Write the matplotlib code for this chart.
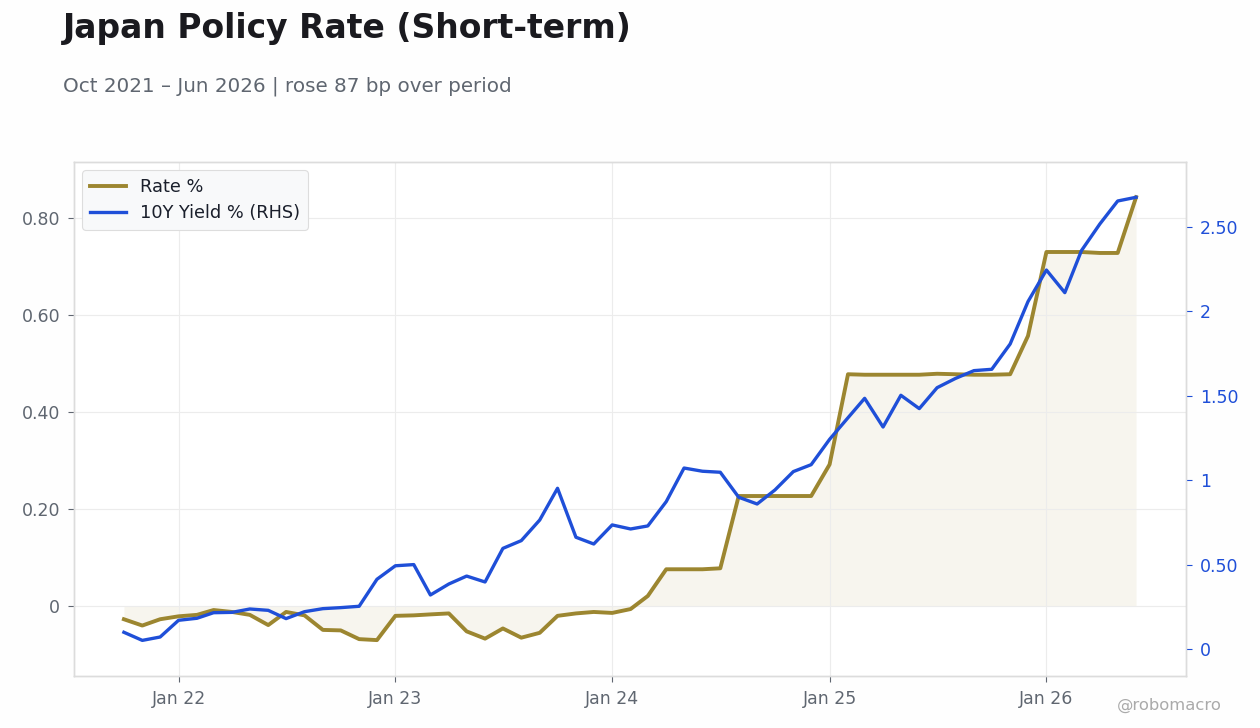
import matplotlib
matplotlib.use("Agg")
import matplotlib.pyplot as plt
import matplotlib.dates as mdates
import matplotlib.ticker as mticker
import pandas as pd

dates = pd.date_range("2021-10-01", "2026-06-01", freq="MS")

rate = [
    -0.027, -0.040, -0.027, -0.021, -0.018, -0.008, -0.012, -0.018, -0.039, -0.012,
    -0.019, -0.049, -0.050, -0.068, -0.070, -0.020, -0.019, -0.017, -0.015, -0.052,
    -0.067, -0.046, -0.065, -0.055, -0.020, -0.015, -0.012, -0.014, -0.006, 0.021,
    0.076, 0.076, 0.076, 0.078, 0.227, 0.227, 0.227, 0.227, 0.227, 0.292,
    0.478, 0.477, 0.477, 0.477, 0.477, 0.479, 0.478, 0.477, 0.477, 0.478,
    0.557, 0.730, 0.730, 0.730, 0.728, 0.728, 0.843,
]

yield10 = [
    0.099, 0.051, 0.071, 0.170, 0.182, 0.215, 0.217, 0.237, 0.229, 0.180,
    0.221, 0.239, 0.245, 0.253, 0.413, 0.493, 0.500, 0.320, 0.385, 0.432,
    0.397, 0.596, 0.642, 0.764, 0.952, 0.662, 0.622, 0.735, 0.711, 0.729,
    0.873, 1.072, 1.053, 1.047, 0.899, 0.859, 0.942, 1.051, 1.092, 1.242,
    1.370, 1.485, 1.315, 1.503, 1.424, 1.548, 1.603, 1.649, 1.657, 1.807,
    2.058, 2.245, 2.111, 2.360, 2.518, 2.654, 2.676,
]

left_ticks = [0, 0.2, 0.4, 0.6, 0.8]
right_ticks = [0, 0.5, 1.0, 1.5, 2.0, 2.5]

GOLD = "#9c8630"
BLUE = "#1f4fd8"
GRAY = "#5f6670"
SPINE = "#dcdcdc"


def fmt(v, pos=None):
    s = f"{v:.2f}"
    if s.endswith(".00"):
        s = s[:-3]
    if s == "-0":
        s = "0"
    return s


fig = plt.figure(figsize=(12.6, 7.28), dpi=100)
fig.patch.set_facecolor("#fefefe")
ax = fig.add_axes([74 / 1260, 1 - 676 / 728, (1186 - 74) / 1260, (676 - 162) / 728])
ax.set_facecolor("white")

ax.fill_between(dates, rate, 0, color=GOLD, alpha=0.08, linewidth=0, zorder=0.5)
l1, = ax.plot(dates, rate, color=GOLD, lw=2.8, label="Rate %", zorder=2)

ax2 = ax.twinx()
l2, = ax2.plot(dates, yield10, color=BLUE, lw=2.4, label="10Y Yield % (RHS)")

ax.set_xlim(pd.Timestamp("2021-10-01") - pd.Timedelta(days=84),
            pd.Timestamp("2026-06-01") + pd.Timedelta(days=84))
ax.set_ylim(-0.144, 0.9155)
ax2.set_ylim(-0.160, 2.885)

ax.set_yticks(left_ticks)
ax2.set_yticks(right_ticks)
ax.yaxis.set_major_formatter(mticker.FuncFormatter(fmt))
ax2.yaxis.set_major_formatter(mticker.FuncFormatter(fmt))

ax.xaxis.set_major_locator(mdates.YearLocator(month=1, day=1))
ax.xaxis.set_major_formatter(mdates.DateFormatter("Jan %y"))

ax.grid(True, color="#ececec", lw=0.8)
ax.set_axisbelow("line")
ax2.grid(False)

for a in (ax, ax2):
    for s in a.spines.values():
        s.set_color(SPINE)
        s.set_linewidth(1.0)

ax.tick_params(axis="both", colors=GRAY, labelsize=12.5, length=4, width=0.8, pad=6)
ax2.tick_params(axis="y", colors=BLUE, labelcolor=BLUE, labelsize=12.5, length=4, width=0.8, pad=6)

leg = ax.legend(handles=[l1, l2], loc="upper left", fontsize=12.8, frameon=True,
                facecolor="#f8f9fa", edgecolor="#dddddd", framealpha=1.0,
                borderpad=0.45, handlelength=2.0, labelspacing=0.45,
                borderaxespad=0.45)
leg.get_frame().set_linewidth(0.8)
for t in leg.get_texts():
    t.set_color("#1a1f2b")

fig.text(63 / 1260, 1 - 12 / 728, "Japan Policy Rate (Short-term)", fontsize=23.8,
         fontweight="bold", color="#1a1a1f", ha="left", va="top")
fig.text(63 / 1260, 1 - 86 / 728, "Oct 2021 \u2013 Jun 2026 | rose 87 bp over period",
         fontsize=14.3, color=GRAY, ha="left", va="center")
fig.text(1222 / 1260, 1 - 705 / 728, "@robomacro", fontsize=11.8, color="#aaaaaa",
         ha="right", va="center")

fig.savefig("out.png", dpi=100, facecolor=fig.get_facecolor())
